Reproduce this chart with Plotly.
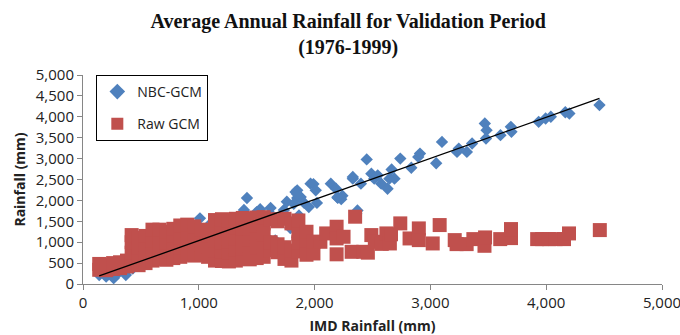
import numpy as np
import plotly.graph_objects as go

title_text = "Average Annual Rainfall for Validation Period<br>(1976-1999)"
x_title = "IMD Rainfall (mm)"
y_title = "Rainfall (mm)"

nbc_x = [140, 200, 265, 300, 370, 430, 500, 560, 620, 680, 740, 800, 860, 930, 1010, 1100, 990, 1060,
         1150, 1220, 1290, 1416, 1390, 1340, 1460, 1500, 1530, 1560, 1620, 1640, 1660, 1735, 1790, 1760,
         1850, 1835, 1850, 1820, 1880, 1910, 1865, 1950, 1965, 1990, 2020, 2010, 2140, 2185, 2200, 2240,
         2230, 2330, 2330, 2360, 2370, 2400, 2450, 2490, 2515, 2545, 2575, 2630, 2646, 2665, 2690, 2740,
         2835, 2895, 2910, 3050, 3100, 3230, 3245, 3315, 3360, 3470, 3485, 3480, 3605, 3695, 3700, 3935,
         3995, 4040, 4165, 4200, 4460, 1849, 2197, 1850, 1620]
nbc_y = [215, 175, 140, 250, 215, 370, 470, 540, 620, 690, 760, 830, 880, 950, 1570, 1440, 1010, 1090,
         1180, 1270, 1240, 2057, 1770, 1360, 1430, 1720, 1790, 1520, 1820, 1620, 1040, 1770, 1340, 1970,
         2060, 2200, 2240, 1920, 2080, 1940, 1640, 1840, 2400, 2390, 1940, 2240, 2400, 2280, 2060, 2110,
         2030, 2520, 2560, 1680, 1760, 2400, 2980, 2640, 2520, 2600, 2400, 2280, 2520, 2740, 2520, 3000,
         2780, 3040, 3120, 2890, 3400, 3160, 3240, 3160, 3360, 3840, 3680, 3480, 3560, 3760, 3640, 3880,
         3960, 4000, 4110, 4080, 4280, 2156, 2075, 1120, 1030]

raw_x = [140, 140, 200, 200, 260, 260, 320, 320, 380, 380,
         420, 420, 420, 420, 480, 480, 480, 480, 540, 540, 540, 540,
         600, 600, 600, 600, 660, 660, 660, 660, 720, 720, 720, 720,
         780, 780, 780, 780, 840, 840, 840, 840, 900, 900, 900, 900,
         960, 960, 960, 960, 1020, 1020, 1020, 1020, 1080, 1080, 1080, 1080,
         1140, 1140, 1140, 1140, 1140, 1200, 1200, 1200, 1200, 1200,
         1260, 1260, 1260, 1260, 1260, 1320, 1320, 1320, 1320, 1320,
         1380, 1380, 1380, 1380, 1380, 1440, 1440, 1440, 1440, 1440,
         1500, 1500, 1500, 1500, 1500, 1560, 1560, 1560, 1560, 1560,
         1620, 1620, 1620, 1680, 1680, 1680, 1740, 1740, 1740, 1800, 1800, 1800,
         1860, 1860, 1860, 1860, 1930, 1930, 1930, 1990, 1990, 2050, 2100,
         2190, 2190, 2190, 2250, 2320, 2350, 2420, 2460, 2490, 2520, 2580, 2620, 2650, 2660,
         2740, 2820, 2900, 2900, 3020, 3080, 3210, 3226, 3313, 3371, 3467, 3472, 3603,
         3696, 3696, 3922, 3965, 4023, 4081, 4154, 4197, 4463]
raw_y = [340, 480, 330, 460, 360, 500, 380, 520, 420, 560,
         480, 750, 1000, 1170, 450, 650, 880, 1100, 500, 720, 950, 1150,
         560, 800, 1050, 1300, 600, 850, 1100, 1300, 580, 780, 1000, 1250,
         620, 900, 1150, 1320, 650, 880, 1120, 1400, 700, 950, 1200, 1420,
         680, 900, 1150, 1380, 700, 950, 1200, 1300, 650, 900, 1150, 1280,
         560, 800, 1050, 1300, 1530, 550, 780, 1000, 1250, 1550,
         540, 760, 1020, 1280, 1520, 560, 820, 1080, 1350, 1560,
         600, 850, 1100, 1330, 1580, 590, 830, 1070, 1320, 1560,
         620, 880, 1140, 1400, 1590, 650, 900, 1180, 1450, 1600,
         810, 1000, 1550, 760, 950, 1500, 600, 880, 1560, 560, 800, 1450,
         780, 1000, 1200, 1520, 1010, 1250, 700, 730, 1010, 1010, 1210,
         1370, 1090, 710, 1130, 770, 1610, 770, 750, 1170, 1010, 960, 1210, 970, 1190,
         1450, 1090, 1330, 1050, 970, 1410, 1050, 954, 954, 1074, 914, 1114, 1074,
         1098, 1314, 1074, 1074, 1074, 1074, 1074, 1210, 1290]

# Linear trendline fitted to the NBC-GCM series
slope, intercept = np.polyfit(nbc_x, nbc_y, 1)
trend_x = np.array([min(nbc_x), max(nbc_x)])
trend_y = slope * trend_x + intercept

fig = go.Figure()
fig.add_trace(go.Scatter(
    x=nbc_x, y=nbc_y, mode="markers", name="NBC-GCM", legendgroup="a",
    marker=dict(symbol="diamond", size=9.5, color="#4F81BD", line=dict(width=0))))
fig.add_trace(go.Scatter(
    x=raw_x, y=raw_y, mode="markers", name="Raw GCM", legendgroup="b",
    marker=dict(symbol="square", size=14, color="#C0504D", line=dict(width=0))))
fig.add_trace(go.Scatter(
    x=trend_x, y=trend_y, mode="lines", showlegend=False,
    line=dict(color="black", width=1.3)))

axis_common = dict(
    showgrid=False, zeroline=False, showline=True, linecolor="#868686", linewidth=1,
    ticks="outside", ticklen=5, tickcolor="#868686",
    tickfont=dict(family="Open Sans", size=15, color="#222"),
    tickformat=",", range=[0, 5000], ticklabeloverflow="allow", automargin=False,
)

fig.update_layout(
    width=680, height=335,
    margin=dict(l=83, r=18, t=75, b=51),
    paper_bgcolor="white", plot_bgcolor="white",
    title=dict(text="<b>Average Annual Rainfall for Validation Period</b><br><b>(1976-1999)</b>",
               x=0.512, xanchor="center", y=0.915, yanchor="top", yref="container",
               font=dict(family="Liberation Serif", size=20, color="#111")),
    xaxis=dict(axis_common, dtick=1000,
               title=dict(text="<b>" + x_title + "</b>", font=dict(family="Open Sans", size=14, color="#222"),
                          standoff=10)),
    yaxis=dict(axis_common, dtick=500,
               title=dict(text="<b>" + y_title + "</b>", font=dict(family="Open Sans", size=14, color="#222"),
                          standoff=6)),
    legend=dict(x=0.023, y=1, xanchor="left", yanchor="top", bgcolor="white",
                bordercolor="black", borderwidth=1, font=dict(family="Open Sans", size=14, color="#222"),
                tracegroupgap=11, traceorder="grouped", itemsizing="constant"),
    showlegend=True,
)

fig.write_html("out.html")
